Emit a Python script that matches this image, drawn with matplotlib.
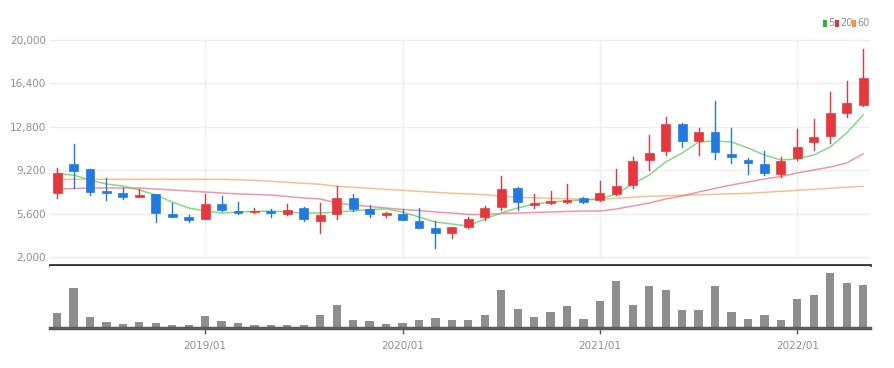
import matplotlib
matplotlib.use("Agg")
import matplotlib.pyplot as plt
from matplotlib.patches import Rectangle
import numpy as np

# ---------------- data ----------------
months = ["2018/04","2018/05","2018/06","2018/07","2018/08","2018/09","2018/10","2018/11","2018/12",
          "2019/01","2019/02","2019/03","2019/04","2019/05","2019/06","2019/07","2019/08","2019/09","2019/10","2019/11","2019/12",
          "2020/01","2020/02","2020/03","2020/04","2020/05","2020/06","2020/07","2020/08","2020/09","2020/10","2020/11","2020/12",
          "2021/01","2021/02","2021/03","2021/04","2021/05","2021/06","2021/07","2021/08","2021/09","2021/10","2021/11","2021/12",
          "2022/01","2022/02","2022/03","2022/04","2022/05"]
opens  = [7334, 9714, 9275, 7500, 7284, 6977, 7201, 5567, 5343,
          5152, 6396, 5816, 5733, 5841, 5567, 6040, 5011, 5542, 6869, 6007, 5459,
          5567, 4986, 4381, 4016, 4464, 5293, 6123, 7699, 6313, 6479, 6562, 6869,
          6728, 7226, 7948, 10046, 10793, 13032, 11647, 12394, 10519, 10046, 9690, 8885,
          10187, 11564, 12037, 13920, 14608]
highs  = [9383, 11373, 9300, 8528, 7700, 7640, 7250, 6454, 5484,
          7226, 7060, 6562, 6040, 5982, 6371, 6172, 6504, 7914, 7251, 6313, 5733,
          5957, 6040, 4986, 4500, 5343, 6255, 8744, 7832, 7226, 7500, 8055, 7000,
          8304, 9275, 10320, 12095, 13638, 13141, 12680, 14965, 12734, 10187, 10793, 10320,
          12601, 13447, 15662, 16624, 19229]
lows   = [6894, 7724, 7143, 6728, 6840, 6950, 4928, 5300, 4870,
          5120, 5850, 5567, 5625, 5343, 5459, 4986, 3966, 5152, 5841, 5343, 5343,
          5069, 4381, 2771, 3551, 4430, 5069, 5899, 5899, 6040, 6400, 6500, 6454,
          6670, 7143, 7749, 9217, 10461, 11149, 10461, 10104, 9772, 8902, 8802, 8661,
          10046, 10876, 11432, 13638, 14525]
closes = [8993, 9134, 7392, 7334, 6952, 7168, 5625, 5343, 5069,
          6396, 5899, 5675, 5841, 5625, 5899, 5127, 5484, 6919, 5982, 5567, 5625,
          5069, 4381, 3966, 4464, 5127, 6040, 7616, 6537, 6504, 6645, 6728, 6587,
          7284, 7914, 9988, 10652, 13032, 11647, 12394, 10685, 10270, 9772, 8993, 9963,
          11100, 11979, 13970, 14800, 16873]
volumes = [150, 400, 110, 60, 44, 60, 50, 27, 27,
           117, 67, 50, 27, 27, 34, 34, 134, 227, 84, 67, 44,
           47, 77, 100, 77, 77, 134, 384, 194, 107, 160, 217, 90,
           267, 467, 234, 417, 384, 184, 184, 417, 160, 94, 127, 84,
           294, 330, 550, 450, 430]
ma5  = [8885, 8802, 8387, 8055, 7889, 7558, 7143, 6562, 6065,
        5816, 5650, 5733, 5774, 5816, 5733, 5650, 5650, 5733, 5816, 5940, 5982,
        5733, 5318, 4903, 4737, 4571, 5152, 5650, 6065, 6396, 6562, 6645, 6728,
        6811, 7226, 8055, 8802, 9880, 10627, 11539, 11622, 11539, 11042, 10461, 10046,
        10129, 10461, 11125, 12286, 13779]
ma20 = [7640, 7681, 7724, 7724, 7724, 7724, 7640, 7558, 7475,
        7392, 7309, 7226, 7185, 7143, 7018, 6894, 6811, 6479, 6313, 6189, 6065,
        5940, 5857, 5733, 5650, 5525, 5525, 5608, 5650, 5691, 5733, 5774, 5816,
        5816, 5982, 6231, 6479, 6811, 7060, 7392, 7683, 7972, 8221, 8470, 8677,
        8968, 9217, 9466, 9797, 10544]
ma60 = [8445, 8445, 8445, 8445, 8445, 8445, 8445, 8445, 8445,
        8445, 8445, 8404, 8362, 8279, 8196, 8113, 8030, 7864, 7781, 7698, 7615,
        7532, 7449, 7366, 7284, 7242, 7159, 7035, 6952, 6911, 6869, 6828, 6786,
        6786, 6869, 6952, 7035, 7077, 7118, 7159, 7201, 7242, 7284, 7367, 7450,
        7533, 7616, 7699, 7782, 7865]
yticks = [2000, 5600, 9200, 12800, 16400, 20000]
year_ticks = ["2019/01", "2020/01", "2021/01", "2022/01"]

# ---------------- style ----------------
UP = "#e8373c"
DOWN = "#1f7be3"
TXT = "#8a8f98"
FONT = ["Liberation Sans Narrow", "DejaVu Sans"]

W, H = 895, 368
fig = plt.figure(figsize=(W / 100, H / 100), dpi=100)

def ax_rect(x0, y0, x1, y1):
    return [x0 / W, 1 - y1 / H, (x1 - x0) / W, (y1 - y0) / H]

ax = fig.add_axes(ax_rect(50, 30, 870, 265))
axv = fig.add_axes(ax_rect(50, 266, 870, 328))

n = len(months)
xs = np.arange(n)
xlim = (-0.43, n - 0.58)

# price axis scaling: 2000 at y=257px, 20000 at y=40px
ppp = (20000 - 2000) / (257 - 40)
ax.set_ylim(2000 - (265 - 257) * ppp, 20000 + (40 - 30) * ppp)
ax.set_xlim(*xlim)

tick_idx = [months.index(t) for t in year_ticks]

for yt in yticks:
    ax.axhline(yt, color="#eeeeee", lw=1.0, zorder=0)
for ti in tick_idx:
    ax.plot([ti, ti], [2000, 20000], color="#eeeeee", lw=1.0, zorder=0)

# moving averages
ax.plot(xs, ma60, color="#f5a55a", lw=1.1, alpha=0.7, zorder=2)
ax.plot(xs, ma20, color="#f06a78", lw=1.1, alpha=0.7, zorder=2)
ax.plot(xs, ma5, color="#5ccc5c", lw=1.1, alpha=0.75, zorder=2)

bw = 0.54
for i in range(n):
    o, h, l, c = opens[i], highs[i], lows[i], closes[i]
    col = UP if c >= o else DOWN
    ax.plot([i, i], [l, h], color=col, lw=1.0, zorder=3)
    bottom = min(o, c)
    height = max(abs(c - o), 40)
    ax.add_patch(Rectangle((i - bw / 2, bottom), bw, height, facecolor=col,
                           edgecolor=col, lw=0.5, zorder=4))

ax.set_yticks(yticks)
ax.set_yticklabels([f"{v:,}" for v in yticks], fontsize=7.5, color=TXT, family=FONT)
ax.tick_params(axis="y", length=0, pad=3)
ax.set_xticks([])
for s in ax.spines.values():
    s.set_visible(False)
ax.spines["bottom"].set_visible(True)
ax.spines["bottom"].set_color("#333333")
ax.spines["bottom"].set_linewidth(2.0)

# volume
axv.set_xlim(*xlim)
axv.set_ylim(0, max(volumes) * 62 / 55)
axv.bar(xs, volumes, width=0.5, color="#8e8e8e", zorder=2)
bl = axv.axhline(0, color="#5a5a5a", lw=2.5, zorder=3)
bl.set_clip_on(False)
axv.set_yticks([])
axv.set_xticks(tick_idx)
axv.set_xticklabels(year_ticks, fontsize=7.5, color=TXT, family=FONT)
axv.tick_params(axis="x", length=4, width=1, color="#5a5a5a", pad=5)
for s in axv.spines.values():
    s.set_visible(False)

# legend (top right)
leg_items = [("5", "#2ab52a", 823), ("20", "#e8373c", 835), ("60", "#f59a30", 852)]
for lab, col, px in leg_items:
    fig.patches.append(Rectangle((px / W, 1 - 27 / H), 4 / W, 7 / H, facecolor=col,
                                 edgecolor="none", transform=fig.transFigure, figure=fig))
    fig.text((px + 5) / W, 1 - 23.5 / H, lab, fontsize=7, color=TXT, va="center",
             ha="left", family=FONT)

fig.savefig("out.png", dpi=100, facecolor="white")
